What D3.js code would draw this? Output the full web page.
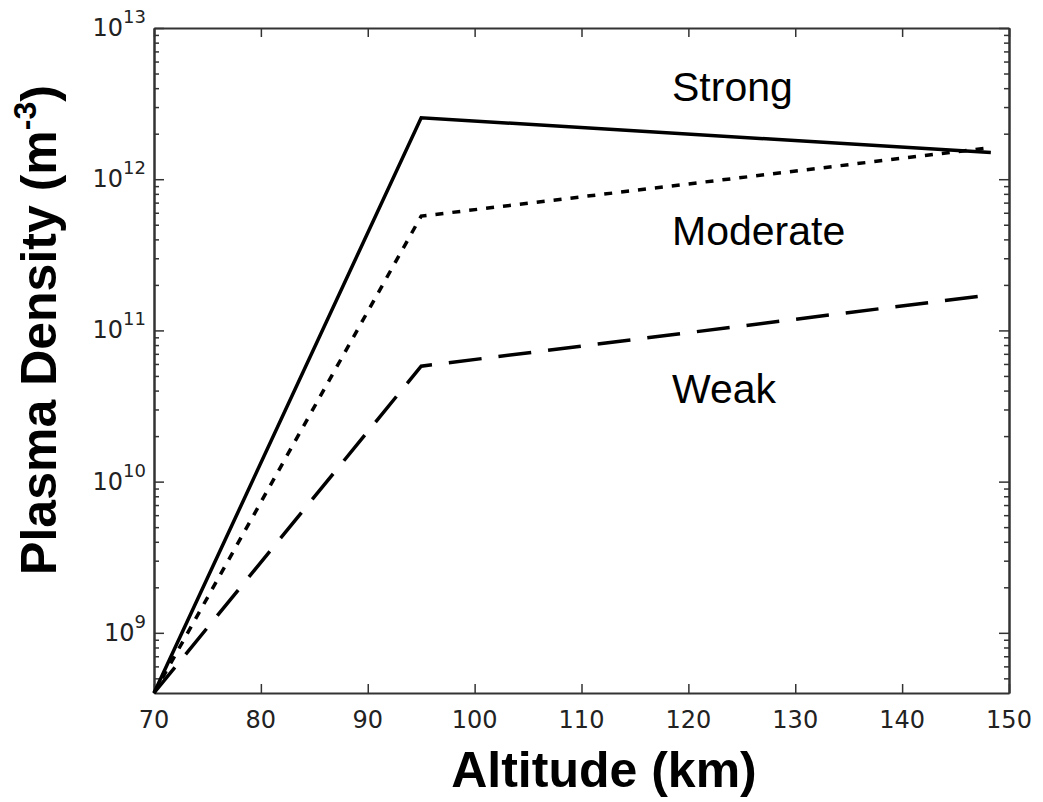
<!DOCTYPE html>
<html>
<head>
<meta charset="utf-8">
<script src="https://cdn.jsdelivr.net/npm/d3@7"></script>
<style>
  html, body { margin: 0; padding: 0; background: #fff; }
  svg { display: block; }
</style>
</head>
<body>
<svg id="chart" width="1043" height="802"></svg>
<script>
// ---- data ----
const altitude = [70, 95, 148.3];
const strong   = [4.0e8, 2.55e12, 1.5e12];
const moderate = [4.0e8, 5.7e11, 1.62e12];
const weak     = [4.0e8, 5.8e10, 1.72e11];
const xTicks = [70, 80, 90, 100, 110, 120, 130, 140, 150];
const yMajorExp = [9, 10, 11, 12, 13];
const seriesNames = ["Strong", "Moderate", "Weak"];
const xLabel = "Altitude (km)";
const yLabelMain = "Plasma Density (m";
const yLabelSup = "-3";

// ---- layout ----
const svg = d3.select("#chart");
const L = 154, R = 1009, T = 28, B = 693;
const x = d3.scaleLinear().domain([70, 150]).range([L, R]);
const y = d3.scaleLog().domain([4.0e8, 1e13]).range([B, T]);

const axisColor = "#333";
const majors = yMajorExp.map(e => Math.pow(10, e));
const minors = [];
for (let e = 8; e <= 12; e++) for (let m = 2; m <= 9; m++) {
  const v = m * Math.pow(10, e);
  if (v > 4.0e8 && v < 1e13) minors.push(v);
}

// ---- axes (ticks inward on all sides) ----
function styleAxis(g) {
  g.selectAll("path.domain").attr("stroke", axisColor).attr("stroke-width", 2);
  g.selectAll(".tick line").attr("stroke", axisColor).attr("stroke-width", 1.5);
  g.selectAll(".tick text").remove();
}
svg.append("g").attr("transform", `translate(0,${B})`)
  .call(d3.axisBottom(x).tickValues(xTicks).tickSizeInner(-9).tickSizeOuter(0).tickFormat(""))
  .call(styleAxis);
svg.append("g").attr("transform", `translate(0,${T})`)
  .call(d3.axisTop(x).tickValues(xTicks).tickSizeInner(-9).tickSizeOuter(0).tickFormat(""))
  .call(styleAxis);
svg.append("g").attr("transform", `translate(${L},0)`)
  .call(d3.axisLeft(y).tickValues(majors).tickSizeInner(-10).tickSizeOuter(0).tickFormat(""))
  .call(styleAxis);
svg.append("g").attr("transform", `translate(${L},0)`)
  .call(d3.axisLeft(y).tickValues(minors).tickSizeInner(-5).tickSizeOuter(0).tickFormat(""))
  .call(styleAxis);
svg.append("g").attr("transform", `translate(${R},0)`)
  .call(d3.axisRight(y).tickValues(majors).tickSizeInner(-10).tickSizeOuter(0).tickFormat(""))
  .call(styleAxis);
svg.append("g").attr("transform", `translate(${R},0)`)
  .call(d3.axisRight(y).tickValues(minors).tickSizeInner(-5).tickSizeOuter(0).tickFormat(""))
  .call(styleAxis);

// ---- tick labels ----
svg.append("g").selectAll("text").data(xTicks).join("text")
  .attr("x", d => x(d)).attr("y", B + 35)
  .attr("text-anchor", "middle")
  .attr("font-family", "DejaVu Sans").attr("font-size", 24)
  .attr("fill", "#222")
  .text(d => d);

const yl = svg.append("g").selectAll("text").data(yMajorExp).join("text")
  .attr("x", L - 8).attr("y", d => y(Math.pow(10, d)) + 8)
  .attr("text-anchor", "end")
  .attr("font-family", "DejaVu Sans").attr("fill", "#222");
yl.append("tspan").attr("font-size", 24).text("10");
yl.append("tspan").attr("font-size", 18).attr("dy", -13).text(d => d);

// ---- lines ----
const line = d3.line().x(d => x(d[0])).y(d => y(d[1]));
const series = [
  { name: seriesNames[0], vals: strong,   dash: null },
  { name: seriesNames[1], vals: moderate, dash: "8,9" },
  { name: seriesNames[2], vals: weak,     dash: "33,17" }
];
svg.append("g").selectAll("path").data(series).join("path")
  .attr("d", s => line(altitude.map((a, i) => [a, s.vals[i]])))
  .attr("fill", "none").attr("stroke", "#000").attr("stroke-width", 3.5)
  .attr("stroke-dasharray", s => s.dash);

// ---- series labels ----
const labelY = [101, 245, 403];
svg.append("g").selectAll("text").data(seriesNames).join("text")
  .attr("x", 672).attr("y", (d, i) => labelY[i])
  .attr("font-family", "Liberation Sans, Arial, sans-serif").attr("font-size", 41)
  .attr("fill", "#000")
  .text(d => d);

// ---- axis titles ----
svg.append("text")
  .attr("x", 604).attr("y", 787)
  .attr("text-anchor", "middle")
  .attr("font-family", "Liberation Sans, Arial, sans-serif").attr("font-weight", "bold")
  .attr("font-size", 50).attr("fill", "#000")
  .text(xLabel);

const yt = svg.append("text")
  .attr("transform", "translate(56,330) rotate(-90)")
  .attr("text-anchor", "middle")
  .attr("font-family", "Liberation Sans, Arial, sans-serif").attr("font-weight", "bold")
  .attr("font-size", 50).attr("fill", "#000");
yt.append("tspan").text(yLabelMain);
yt.append("tspan").attr("font-size", 32).attr("dy", -20).text(yLabelSup);
yt.append("tspan").attr("dy", 20).text(")");
</script>
</body>
</html>
